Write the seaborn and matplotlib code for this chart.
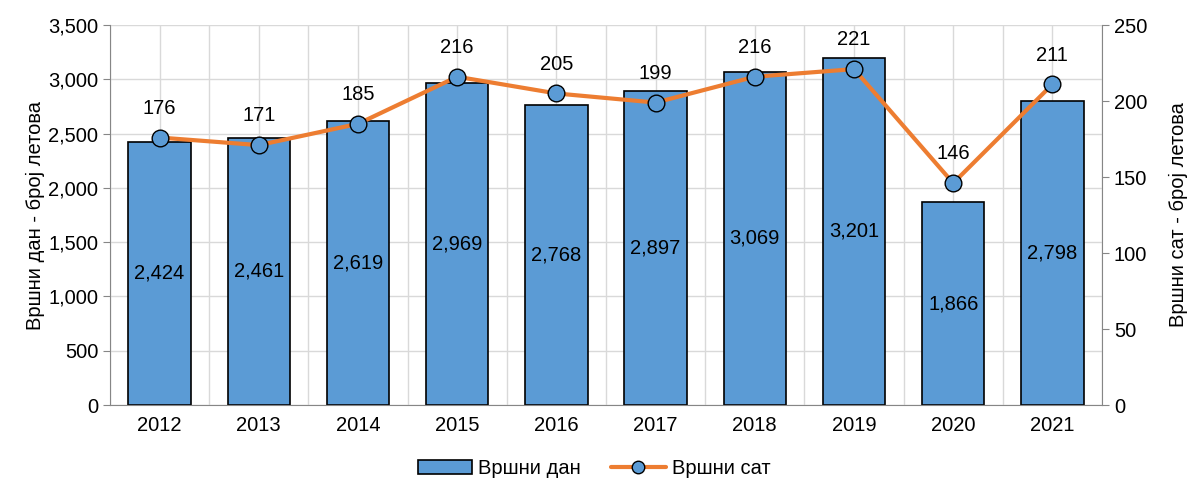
import numpy as np
import pandas as pd
import seaborn as sns
import matplotlib.pyplot as plt
from matplotlib.lines import Line2D
from matplotlib.patches import Patch

# подаци
years = ['2012', '2013', '2014', '2015', '2016', '2017', '2018', '2019', '2020', '2021']
peak_day = [2424, 2461, 2619, 2969, 2768, 2897, 3069, 3201, 1866, 2798]
peak_hour = [176, 171, 185, 216, 205, 199, 216, 221, 146, 211]

bar_color = '#5B9BD5'
line_color = '#ED7D31'
grid_color = '#D9D9D9'
axis_color = '#868686'
fs = 14.5

sns.set_style('white')
plt.rcParams['font.family'] = ['Liberation Sans', 'DejaVu Sans']
plt.rcParams['font.size'] = fs
plt.rcParams['text.color'] = 'black'
plt.rcParams['axes.labelcolor'] = 'black'
plt.rcParams['xtick.color'] = 'black'
plt.rcParams['ytick.color'] = 'black'

df = pd.DataFrame({'year': years, 'day': peak_day, 'hour': peak_hour})

fig = plt.figure(figsize=(11.88, 4.91), dpi=100)
ax = fig.add_axes([0.0926, 0.175, 0.835, 0.774])

sns.barplot(data=df, x='year', y='day', color=bar_color, width=0.63,
            edgecolor='black', linewidth=1.2, saturation=1, ax=ax, zorder=2)

ax.set_ylim(0, 3500)
ax.set_yticks(np.arange(0, 3501, 500))
ax.set_yticklabels([f'{v:,}' for v in range(0, 3501, 500)])
ax.set_xlim(-0.5, len(years) - 0.5)
ax.set_xticks(np.arange(len(years)))
ax.set_xticks(np.arange(-0.5, len(years), 1), minor=True)
ax.grid(True, axis='y', color=grid_color, linewidth=1, zorder=0)
for xv in np.arange(-0.5, len(years), 0.5):
    ax.axvline(xv, color=grid_color, linewidth=1, zorder=0)
ax.set_axisbelow(True)
ax.tick_params(axis='x', which='major', length=0, pad=8, labelsize=fs)
ax.tick_params(axis='x', which='minor', length=5, color=axis_color, direction='out')
ax.tick_params(axis='y', length=5, color=axis_color, labelcolor='black',
               direction='out', left=True, labelsize=fs)
ax.set_xlabel('')
ax.set_ylabel('Вршни дан - број летова', labelpad=2, fontsize=fs)
for s in ['left', 'bottom']:
    ax.spines[s].set_color(axis_color)
for s in ['top', 'right']:
    ax.spines[s].set_visible(False)

for i, v in enumerate(peak_day):
    ax.text(i, v / 2, f'{v:,}', ha='center', va='center', fontsize=fs, zorder=5)

ax2 = ax.twinx()
sns.lineplot(x=np.arange(len(years)), y=peak_hour, color=line_color, linewidth=3,
             marker='o', markersize=12, markerfacecolor=bar_color,
             markeredgecolor='black', markeredgewidth=1, ax=ax2, zorder=4)
ax2.set_ylim(0, 250)
ax2.set_yticks(np.arange(0, 251, 50))
ax2.tick_params(axis='y', length=5, color=axis_color, labelcolor='black',
                direction='out', right=True, labelsize=fs)
ax2.set_ylabel('Вршни сат - број летова', labelpad=16, fontsize=fs)
ax2.spines['right'].set_color(axis_color)
for s in ['top', 'left', 'bottom']:
    ax2.spines[s].set_visible(False)
ax2.grid(False)

for i, v in enumerate(peak_hour):
    ax2.text(i, v + 13, str(v), ha='center', va='bottom', fontsize=fs)

handles = [Patch(facecolor=bar_color, edgecolor='black', linewidth=1.2),
           Line2D([0], [0], color=line_color, linewidth=3, marker='o', markersize=9,
                  markerfacecolor=bar_color, markeredgecolor='black')]
fig.legend(handles, ['Вршни дан', 'Вршни сат'], loc='lower center',
           bbox_to_anchor=(0.5, -0.01), ncol=2, frameon=False, fontsize=fs,
           handlelength=2.7, columnspacing=1.5, handletextpad=0.3)

fig.savefig('out.png', dpi=100)
